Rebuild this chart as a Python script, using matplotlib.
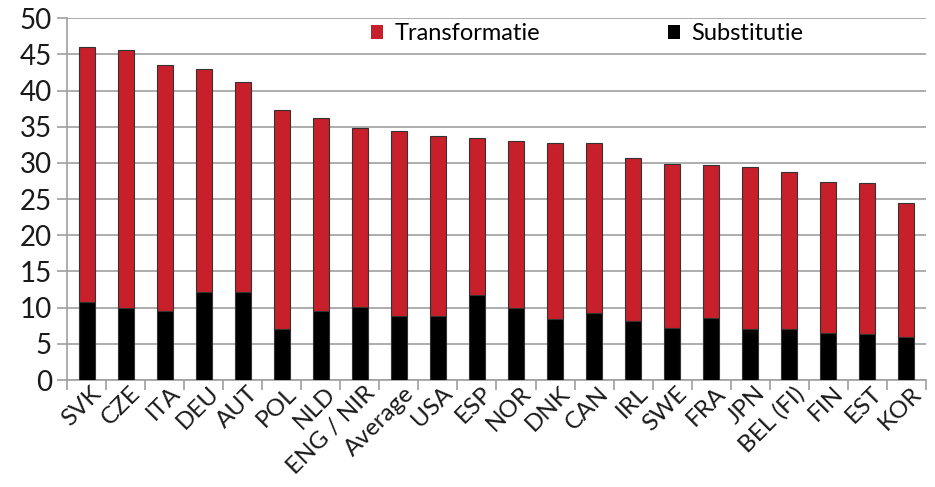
import matplotlib
matplotlib.use("Agg")
import matplotlib.pyplot as plt
import matplotlib.transforms as mtransforms
import numpy as np

categories = ["SVK", "CZE", "ITA", "DEU", "AUT", "POL", "NLD", "ENG / NIR", "Average",
              "USA", "ESP", "NOR", "DNK", "CAN", "IRL", "SWE", "FRA", "JPN", "BEL (FI)",
              "FIN", "EST", "KOR"]
total = [46.0, 45.6, 43.6, 43.0, 41.2, 37.3, 36.2, 34.8, 34.4, 33.8, 33.5, 33.1,
         32.8, 32.7, 30.7, 29.9, 29.7, 29.5, 28.7, 27.4, 27.3, 24.5]
substitutie = [10.8, 9.9, 9.6, 12.1, 12.1, 7.1, 9.6, 10.1, 8.9, 8.9, 11.8, 10.0,
               8.5, 9.2, 8.2, 7.2, 8.6, 7.1, 7.0, 6.5, 6.3, 5.9]
transformatie = [t - s for t, s in zip(total, substitutie)]
yticks = [0, 5, 10, 15, 20, 25, 30, 35, 40, 45, 50]

plt.rcParams['font.family'] = ['Lato', 'DejaVu Sans']

fig = plt.figure(figsize=(9.35, 4.87), dpi=100)
ax = fig.add_axes([0.072, 0.2197, 0.918, 0.7427])

x = np.arange(len(categories))
red = "#C8202A"
w = 0.4
ax.bar(x, substitutie, width=w, color="black", edgecolor="#333333", linewidth=0.8,
       label="Substitutie", zorder=3)
ax.bar(x, transformatie, width=w, bottom=substitutie, color=red, edgecolor="#333333",
       linewidth=0.8, label="Transformatie", zorder=3)

ax.set_xlim(-0.5, len(categories) - 0.5)
ax.set_ylim(0, 50)
ax.set_yticks(yticks)
ax.yaxis.grid(True, color="#A0A0A0", linewidth=1.2, zorder=0)
ax.set_axisbelow(True)

for s in ["top", "right"]:
    ax.spines[s].set_visible(False)
for s in ["left", "bottom"]:
    ax.spines[s].set_color("#A0A0A0")
    ax.spines[s].set_linewidth(1.2)

ax.set_xticks(x)
ax.set_xticklabels(categories, rotation=45, ha="right", rotation_mode="anchor",
                   fontsize=17.5, color="#1a1a1a")
ax.tick_params(axis="x", which="major", length=0, pad=2)
offset = mtransforms.ScaledTranslation(4 / 100, 0, fig.dpi_scale_trans)
for lab in ax.get_xticklabels():
    lab.set_transform(lab.get_transform() + offset)
ax.set_xticks(np.arange(-0.5, len(categories)), minor=True)
ax.tick_params(axis="x", which="minor", length=7, color="#A0A0A0", width=1.2)
ax.tick_params(axis="y", length=7, color="#A0A0A0", width=1.2, labelsize=20,
               labelcolor="#1a1a1a", pad=4)

handles, labels = ax.get_legend_handles_labels()
leg = fig.legend(handles[::-1], labels[::-1], loc="center left",
                 bbox_to_anchor=(371 / 935, 1 - 34 / 487), ncol=2, frameon=False,
                 fontsize=17, handlelength=0.5, handleheight=0.5, borderpad=0,
                 borderaxespad=0, columnspacing=5.4, handletextpad=0.5)
for h in leg.legend_handles:
    h.set_linewidth(0)

fig.savefig("out.png", dpi=100)
